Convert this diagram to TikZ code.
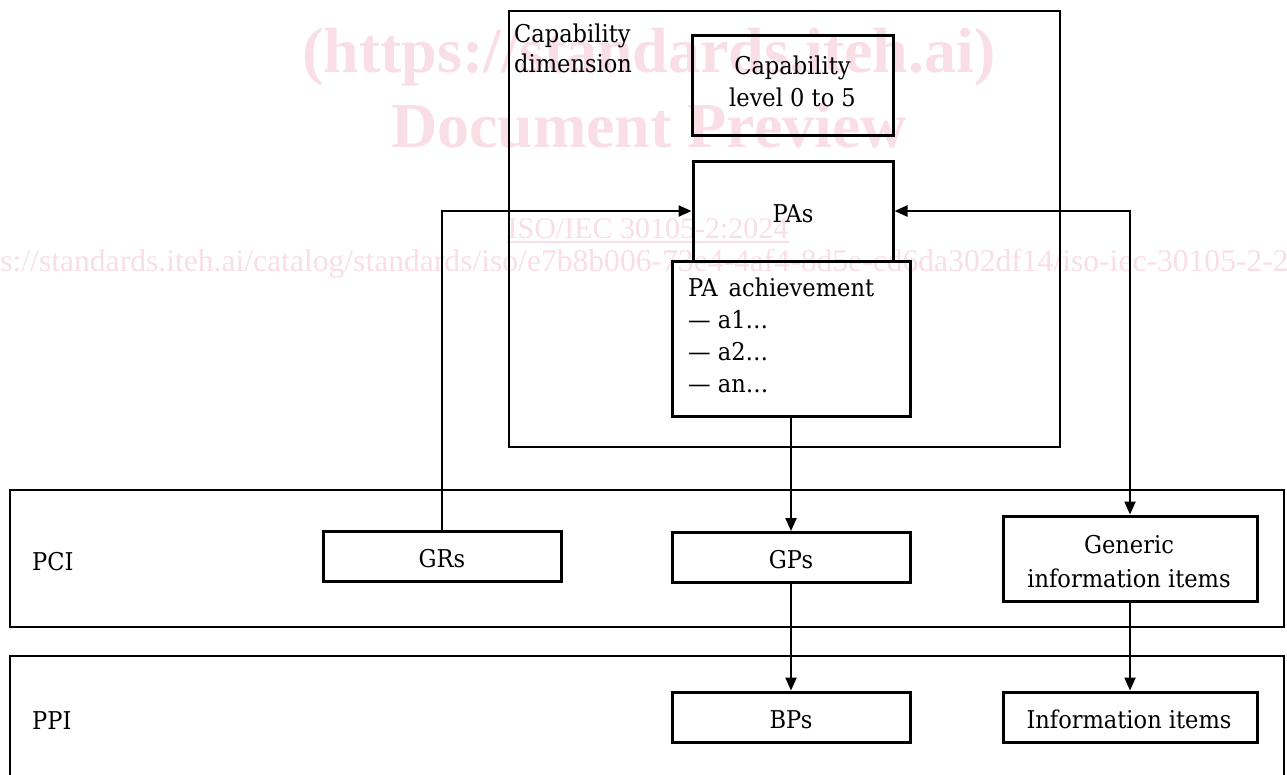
\documentclass[tikz,border=0pt]{standalone}
\usepackage{fontspec}
\setmainfont{DejaVu Serif}[FakeStretch=0.92]
\newfontfamily\wmfont{Liberation Serif}
\usetikzlibrary{arrows.meta}
\definecolor{wmpink}{RGB}{249,222,230}

\begin{document}
\begin{tikzpicture}[x=1pt,y=-1pt,
  txt/.style={font=\fontsize{24.5}{32}\selectfont, inner sep=0pt, anchor=base},
  box/.style={draw, line width=3pt, inner sep=0pt},
  frame/.style={draw, line width=2.8pt, inner sep=0pt},
  conn/.style={line width=2.3pt},
  tip/.style={-{Triangle[length=13pt,width=11pt]}},
  wm/.style={text=wmpink, inner sep=0pt}
]
\useasboundingbox (0,0) rectangle (1287,774);

% watermark
\node[wm, font=\wmfont\bfseries\fontsize{64}{64}\selectfont] (wm1) at (649,57) {(https://standards.iteh.ai)};
\node[wm, font=\wmfont\bfseries\fontsize{64}{64}\selectfont] (wm2) at (649,126) {Document Preview};
\node[wm, font=\wmfont\fontsize{30}{30}\selectfont, anchor=base] (wm3) at (648,238) {ISO/IEC 30105-2:2024};
\draw[wmpink, line width=1.2pt] ([yshift=-4pt]wm3.base west) -- ([yshift=-4pt]wm3.base east);
\node[wm, font=\wmfont\fontsize{31.6}{31.6}\selectfont, anchor=base west] (wm4) at (-49,271) {https://standards.iteh.ai/catalog/standards/iso/e7b8b006-73e4-4af4-8d5e-cd6da302df14/iso-iec-30105-2-2024};

% capability dimension (multi-line texts are placed by the baseline of their last line)
\node[frame, minimum width=551pt, minimum height=436pt] (capdim) at (784.5,229) {};
\node[txt, anchor=base west, align=left, font=\fontsize{24.5}{30}\selectfont] (capdimlbl) at (514,72) {Capability\\dimension};
\node[box, minimum width=201pt, minimum height=100pt] (level) at (792.5,85) {};
\node[txt, align=center] (leveltxt) at (792.5,106) {Capability\\level 0 to 5};
\node[box, minimum width=200pt, minimum height=100pt] (pas) at (793,211) {};
\node[txt] (pastxt) at (793,222) {PAs};
\node[box, minimum width=238pt, minimum height=155pt] (pach) at (791,338.5) {};
\node[txt, anchor=base west, align=left] (pachtxt) at (688,392.5)
  {PA\hspace{0.45em}achievement\\— a1…\\— a2…\\— an…};

% process capability indicators
\node[frame, minimum width=1274pt, minimum height=137pt] (pci) at (647,558.5) {};
\node[txt, anchor=base west] (pcilbl) at (32,570) {PCI};
\node[box, minimum width=238pt, minimum height=50pt] (grs) at (442,556) {};
\node[txt] (grstxt) at (442,567) {GRs};
\node[box, minimum width=238pt, minimum height=50pt] (gps) at (791,557.5) {};
\node[txt] (gpstxt) at (791,568) {GPs};
\node[box, minimum width=254pt, minimum height=85pt] (gen) at (1130,558.5) {};
\node[txt, align=center, font=\fontsize{24.5}{34}\selectfont] (gentxt) at (1129,587) {Generic\\information items};

% process performance indicators
\node[frame, minimum width=1274pt, minimum height=140pt] (ppi) at (647,726) {};
\node[txt, anchor=base west] (ppilbl) at (32,729) {PPI};
\node[box, minimum width=238pt, minimum height=50pt] (bps) at (791,717) {};
\node[txt] (bpstxt) at (791,728) {BPs};
\node[box, minimum width=254pt, minimum height=50pt] (info) at (1130,717) {};
\node[txt] (infotxt) at (1129,728) {Information items};

% connectors
\draw[conn, tip] (grs.north) |- (pas.west);
\draw[conn, {Triangle[length=13pt,width=11pt]}-{Triangle[length=13pt,width=11pt]}] (pas.east) -| (gen.north);
\draw[conn, tip] (pach.south) -- (gps.north);
\draw[conn, tip] (gps.south) -- (bps.north);
\draw[conn, tip] (gen.south) -- (info.north);
\end{tikzpicture}
\end{document}
